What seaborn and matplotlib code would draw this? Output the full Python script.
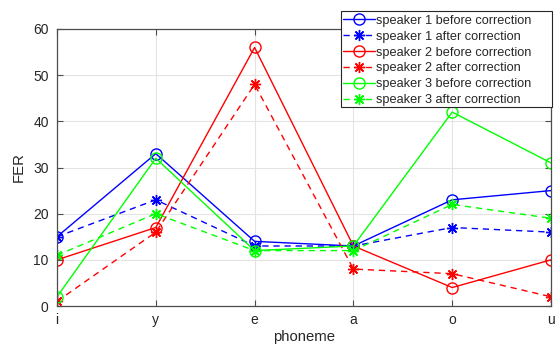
import matplotlib
matplotlib.use("Agg")
import matplotlib.pyplot as plt
import matplotlib.patches as mpatches
import seaborn as sns
import pandas as pd

phonemes = ["i", "y", "e", "a", "o", "u"]
s1_before = [15, 33, 14, 13, 23, 25]
s1_after = [15, 23, 13, 13, 17, 16]
s2_before = [10, 17, 56, 13, 4, 10]
s2_after = [1, 16, 48, 8, 7, 2]
s3_before = [2, 32, 12, 13, 42, 31]
s3_after = [11, 20, 12, 12, 22, 19]

labels = ["speaker 1 before correction", "speaker 1 after correction",
          "speaker 2 before correction", "speaker 2 after correction",
          "speaker 3 before correction", "speaker 3 after correction"]
series = [s1_before, s1_after, s2_before, s2_after, s3_before, s3_after]
colors = ["#0000ff", "#0000ff", "#ff0000", "#ff0000", "#00ff00", "#00ff00"]
styles = ["-", (0, (4.5, 3.5)), "-", (0, (4.5, 3.5)), "-", (0, (4.5, 3.5))]
markers = ["o", (8, 2, 0), "o", (8, 2, 0), "o", (8, 2, 0)]

sns.set_style("white")
plt.rcParams["font.family"] = ["Liberation Sans", "DejaVu Sans"]

fig = plt.figure(figsize=(5.59, 3.47), dpi=100)
ax = fig.add_axes([57/559, 1-306/347, (551-57)/559, (306-29)/347])

axcol = "#262626"
pos = list(range(len(phonemes)))
for vals, lab, c, ls, m in zip(series, labels, colors, styles, markers):
    df = pd.DataFrame({"x": pos, "y": vals})
    sns.lineplot(data=df, x="x", y="y", ax=ax, color=c, linestyle=ls,
                 marker=m, markersize=8,
                 markerfacecolor="none", markeredgecolor=c,
                 markeredgewidth=1.0, linewidth=1.0, label=lab,
                 sort=False, dashes=False)

ax.set_xlim(0, 5)
ax.set_ylim(0, 60)
ax.set_xticks(pos)
ax.set_xticklabels(phonemes)
ax.set_yticks(range(0, 61, 10))
ax.grid(True, color="#e3e3e3", linewidth=0.8)
ax.set_axisbelow(True)
for sp in ax.spines.values():
    sp.set_color("#4d4d4d")
    sp.set_linewidth(0.9)
ax.tick_params(direction="in", length=4, width=0.8, colors="#4d4d4d",
               labelcolor=axcol, labelsize=10, top=True, right=True,
               left=True, bottom=True, pad=5)
ax.tick_params(axis="y", pad=6)
ax.set_xlabel("phoneme", fontsize=10.7, color=axcol, labelpad=2)
ax.set_ylabel("FER", fontsize=10.7, color=axcol, labelpad=5)

# legend frame (MATLAB-style box with extra room on the right)
frame = mpatches.Rectangle((341/559, 1-107/347), 211/559, 96/347,
                           transform=fig.transFigure, facecolor="white",
                           edgecolor="#262626", linewidth=0.8,
                           clip_on=False, zorder=4.9)
ax.add_artist(frame)

leg = ax.legend(loc="upper left", bbox_to_anchor=(341/559, 1-13/347),
                bbox_transform=fig.transFigure, fontsize=9.15,
                frameon=False, handlelength=2.5, handletextpad=0.1,
                labelspacing=0.3, borderpad=0.15, borderaxespad=0)
leg.set_zorder(5)

fig.savefig("out.png", dpi=100)
